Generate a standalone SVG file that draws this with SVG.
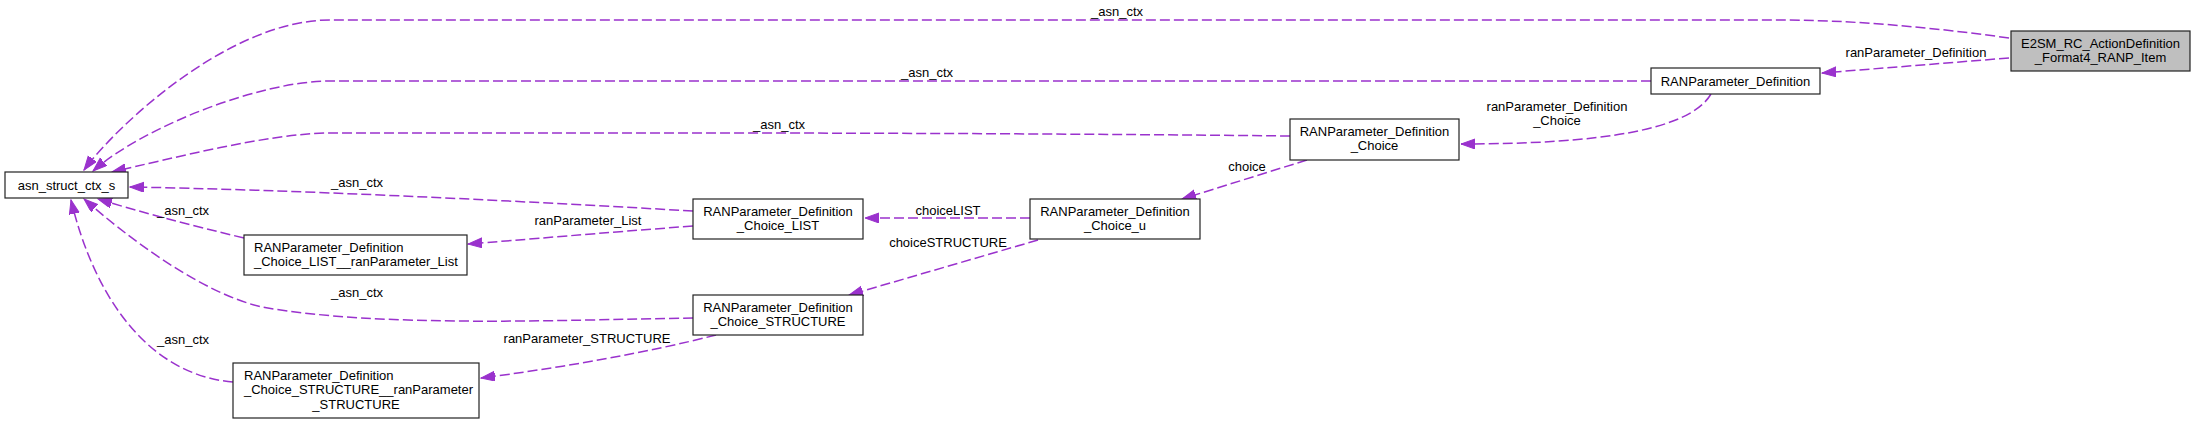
<svg xmlns="http://www.w3.org/2000/svg" width="2196" height="424" viewBox="0 0 2196 424">
<style>
text{font-family:"Liberation Sans",Arial,sans-serif;font-size:13px;fill:#000}
.c{text-anchor:middle}
.box{fill:#fff;stroke:#222;stroke-width:1.2}
.e{fill:none;stroke:#9a32cd;stroke-width:1.5;stroke-dasharray:10,4;marker-end:url(#ah)}
</style>
<defs>
<marker id="ah" markerUnits="userSpaceOnUse" markerWidth="15" markerHeight="11" refX="14" refY="5" orient="auto">
<path d="M0,0 L14,5 L0,10 z" fill="#9a32cd" stroke="#9a32cd" stroke-width="1"/>
</marker>
</defs>
<rect width="2196" height="424" fill="#fff"/>
<g id="connectors">
<path class="e" d="M2009,38 C1930,27 1850,20 1780,20 L330,20 C230,20 118,124 84,170"/>
<path class="e" d="M1651,81 L330,81 C260,81 143,127 93,171"/>
<path class="e" d="M1290,136 C1100,134 900,133 700,133 L330,133 C270,133 169,159 112,172"/>
<path class="e" d="M693,211 C500,200 300,190 130,187"/>
<path class="e" d="M244,238 C190,225 140,212 98,199"/>
<path class="e" d="M693,226 C600,233 520,240 468,244"/>
<path class="e" d="M693,318 C560,320 380,328 262,307 C200,293 125,235 84,199"/>
<path class="e" d="M233,382 C150,375 95,300 71,200"/>
<path class="e" d="M716,335 C650,352 560,368 481,378"/>
<path class="e" d="M1030,218 L865,218"/>
<path class="e" d="M1038,240 L849,295"/>
<path class="e" d="M1307,160 L1182,199"/>
<path class="e" d="M1711,94 C1690,130 1600,144 1461,144"/>
<path class="e" d="M2009,58 L1822,73"/>
<text class="c" x="1117" y="16">_asn_ctx</text>
<text class="c" x="1916" y="57">ranParameter_Definition</text>
<text class="c" x="927" y="77">_asn_ctx</text>
<text class="c" x="1557" y="111">ranParameter_Definition</text>
<text class="c" x="1557" y="125">_Choice</text>
<text class="c" x="779" y="129">_asn_ctx</text>
<text class="c" x="1247" y="171">choice</text>
<text class="c" x="357" y="187">_asn_ctx</text>
<text class="c" x="948" y="215">choiceLIST</text>
<text class="c" x="183" y="215">_asn_ctx</text>
<text class="c" x="588" y="225">ranParameter_List</text>
<text class="c" x="948" y="247">choiceSTRUCTURE</text>
<text class="c" x="357" y="297">_asn_ctx</text>
<text class="c" x="183" y="344">_asn_ctx</text>
<text class="c" x="587" y="343">ranParameter_STRUCTURE</text>
</g>
<g id="E2SM_RC_ActionDefinition_Format4_RANP_Item">
<rect x="2011" y="31" width="179" height="40" fill="#bfbfbf" stroke="#222" stroke-width="1.2"/>
<text class="c" x="2100.5" y="48">E2SM_RC_ActionDefinition</text>
<text class="c" x="2100.5" y="62">_Format4_RANP_Item</text>
</g>
<g id="RANParameter_Definition">
<rect class="box" x="1651" y="68" width="169" height="26"/>
<text class="c" x="1735.5" y="85.5">RANParameter_Definition</text>
</g>
<g id="RANParameter_Definition_Choice">
<rect class="box" x="1290" y="119" width="169" height="41"/>
<text class="c" x="1374.5" y="136">RANParameter_Definition</text>
<text class="c" x="1374.5" y="150">_Choice</text>
</g>
<g id="RANParameter_Definition_Choice_u">
<rect class="box" x="1030" y="199" width="170" height="40"/>
<text class="c" x="1115" y="216">RANParameter_Definition</text>
<text class="c" x="1115" y="230">_Choice_u</text>
</g>
<g id="RANParameter_Definition_Choice_LIST">
<rect class="box" x="693" y="199" width="170" height="40"/>
<text class="c" x="778" y="216">RANParameter_Definition</text>
<text class="c" x="778" y="230">_Choice_LIST</text>
</g>
<g id="RANParameter_Definition_Choice_STRUCTURE">
<rect class="box" x="693" y="295" width="170" height="40"/>
<text class="c" x="778" y="312">RANParameter_Definition</text>
<text class="c" x="778" y="326">_Choice_STRUCTURE</text>
</g>
<g id="asn_struct_ctx_s">
<rect class="box" x="5" y="172" width="123" height="26"/>
<text class="c" x="66.5" y="189.5">asn_struct_ctx_s</text>
</g>
<g id="RANParameter_Definition_Choice_LIST__ranParameter_List">
<rect class="box" x="244" y="235" width="223" height="40"/>
<text x="254" y="252">RANParameter_Definition</text>
<text x="254" y="266">_Choice_LIST__ranParameter_List</text>
</g>
<g id="RANParameter_Definition_Choice_STRUCTURE__ranParameter_STRUCTURE">
<rect class="box" x="233" y="363" width="246" height="55"/>
<text x="244" y="380">RANParameter_Definition</text>
<text x="244" y="394">_Choice_STRUCTURE__ranParameter</text>
<text class="c" x="356" y="409">_STRUCTURE</text>
</g>
</svg>
